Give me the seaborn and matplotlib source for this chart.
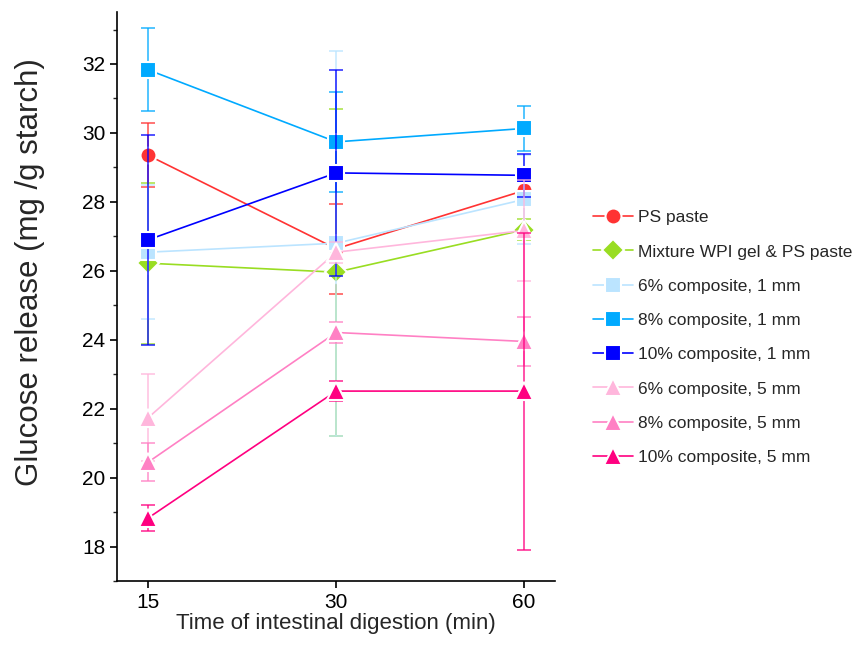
import matplotlib
matplotlib.use("Agg")
import matplotlib.pyplot as plt
from matplotlib.ticker import MultipleLocator
import seaborn as sns
import pandas as pd

sns.set_style("white")
plt.rcParams['font.family'] = ['Liberation Sans', 'DejaVu Sans']

# ---- data (mg glucose / g starch) ----
times = ["15", "30", "60"]
series = ["PS paste", "Mixture WPI gel & PS paste",
          "6% composite, 1 mm", "8% composite, 1 mm", "10% composite, 1 mm",
          "6% composite, 5 mm", "8% composite, 5 mm", "10% composite, 5 mm"]
ps_paste = [29.35, 26.64, 28.33]
ps_paste_sd = [0.93, 1.30, 0.30]
mixture = [26.22, 25.96, 27.19]
mixture_sd = [2.33, 4.74, 0.30]
c6_1mm = [26.54, 26.80, 28.07]
c6_1mm_sd = [1.94, 5.58, 1.30]
c8_1mm = [31.83, 29.74, 30.13]
c8_1mm_sd = [1.20, 1.46, 0.66]
c10_1mm = [26.90, 28.84, 28.77]
c10_1mm_sd = [3.05, 3.00, 0.63]
c6_5mm = [21.74, 26.54, 27.17]
c6_5mm_sd = [1.26, 0.30, 1.47]
c8_5mm = [20.45, 24.21, 23.95]
c8_5mm_sd = [0.55, 0.30, 0.72]
c10_5mm = [18.83, 22.51, 22.51]
c10_5mm_sd = [0.38, 0.30, 4.60]

values = [ps_paste, mixture, c6_1mm, c8_1mm, c10_1mm, c6_5mm, c8_5mm, c10_5mm]
sds = [ps_paste_sd, mixture_sd, c6_1mm_sd, c8_1mm_sd, c10_1mm_sd,
       c6_5mm_sd, c8_5mm_sd, c10_5mm_sd]
colors = ["#FF3333", "#99DD22", "#BBE4FF", "#00AAFF", "#0000FF",
          "#FFB6DC", "#FF80C4", "#FF0080"]
markers = ["o", "D", "s", "s", "s", "^", "^", "^"]
msizes = {"o": 11.5, "D": 11, "s": 11.5, "^": 13}

fig, ax = plt.subplots(figsize=(8.62, 6.47), dpi=100)
fig.subplots_adjust(left=0.136, right=0.644, bottom=0.102, top=0.981)

pos = list(range(len(times)))
for i, (name, vals, sd, col, mk) in enumerate(zip(series, values, sds, colors, markers)):
    ax.errorbar(pos, vals, yerr=sd, fmt="none", ecolor=col, elinewidth=1.2,
                capsize=5, capthick=1.2, alpha=0.8, zorder=2 + 2 * i)
    df = pd.DataFrame({"x": pos, "y": vals})
    sns.lineplot(data=df, x="x", y="y", ax=ax, color=col, marker=mk,
                 markersize=msizes[mk], markeredgecolor="white", markeredgewidth=1.5,
                 linewidth=1.2, label=name, zorder=3 + 2 * i)

ax.set_xlim(-0.165, 2.165)
ax.set_ylim(17, 33.5)
ax.set_xticks(pos)
ax.set_xticklabels(times)
ax.yaxis.set_major_locator(MultipleLocator(2))
ax.yaxis.set_minor_locator(MultipleLocator(1))
ax.tick_params(axis="both", which="major", direction="out", length=5, width=1.2,
               labelsize=15, bottom=True, left=True, colors="black")
ax.tick_params(axis="y", which="minor", direction="out", length=3, width=1.0, left=True)
for s in ["top", "right"]:
    ax.spines[s].set_visible(False)
for s in ["left", "bottom"]:
    ax.spines[s].set_linewidth(1.2)
    ax.spines[s].set_color("black")

ax.set_xlabel("Time of intestinal digestion (min)", fontsize=16, labelpad=1)
ax.set_ylabel("Glucose release (mg /g starch)", fontsize=22.5)
ax.yaxis.set_label_coords(-0.165, 0.543)

ax.legend(loc="center left", bbox_to_anchor=(1.05, 0.428), frameon=False,
          fontsize=12.5, labelspacing=1.1, handlelength=2.3, handletextpad=0.3)

fig.savefig("out.png", dpi=100)
